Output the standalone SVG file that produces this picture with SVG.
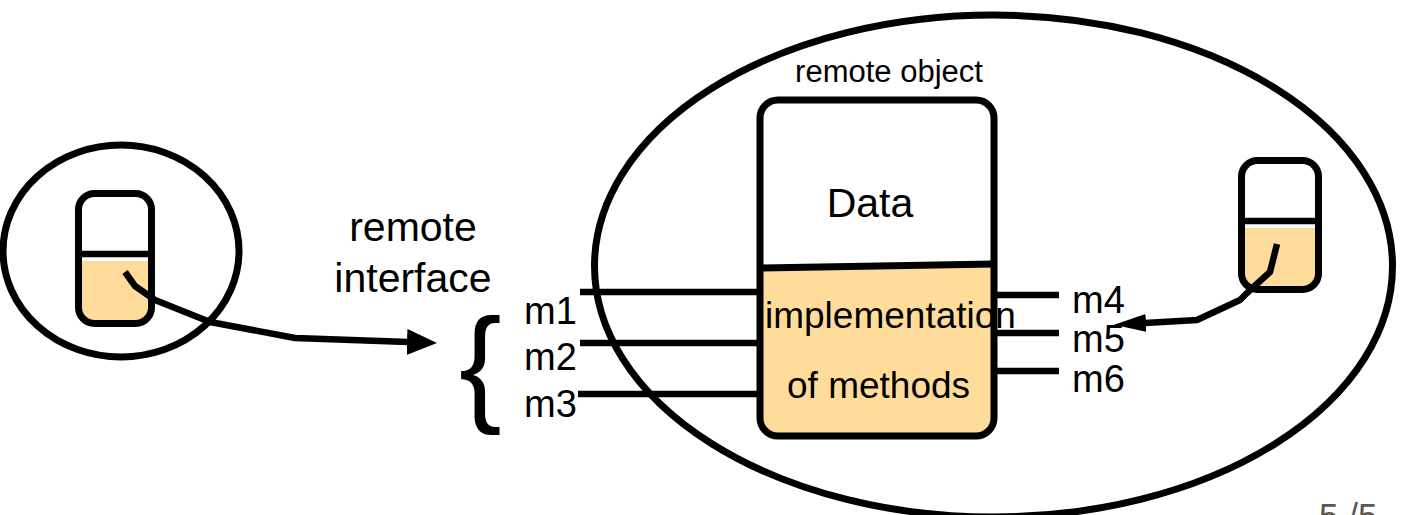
<svg xmlns="http://www.w3.org/2000/svg" width="1413" height="515" viewBox="0 0 1413 515">
<defs>
<style>
.t{font-family:"Liberation Sans",Arial,sans-serif;fill:#000}
.o{fill:none;stroke:#000;stroke-width:7}
.ln{fill:none;stroke:#000;stroke-width:6.5}
.fill{fill:#FFDC9A}
</style>
<clipPath id="cBig"><rect x="760" y="100" width="234" height="336" rx="18"/></clipPath>
<clipPath id="cL"><rect x="78.5" y="193.5" width="73" height="130" rx="16"/></clipPath>
<clipPath id="cR"><rect x="1241.5" y="160.5" width="77" height="129" rx="16"/></clipPath>
<marker id="ahL" markerUnits="userSpaceOnUse" markerWidth="32" markerHeight="28" refX="1" refY="13" orient="auto">
<path d="M0,0 L30,13 L0,26 z" fill="#000"/>
</marker>
<marker id="ahR" markerUnits="userSpaceOnUse" markerWidth="34" markerHeight="22" refX="1" refY="9" orient="auto">
<path d="M0,0 L32,9 L0,18 z" fill="#000"/>
</marker>
</defs>
<rect width="1413" height="515" fill="#fff"/>

<g id="client-process">
<ellipse cx="121" cy="251" rx="118" ry="106" class="o"/>
</g>

<g id="server-process">
<ellipse cx="993.5" cy="266" rx="399" ry="251" class="o"/>
</g>

<g id="client-object">
<rect x="78.5" y="193.5" width="73" height="130" rx="16" fill="#fff"/>
<rect x="70" y="261" width="90" height="70" class="fill" clip-path="url(#cL)"/>
<line x1="78" y1="254" x2="152" y2="254" class="ln"/>
<rect x="78.5" y="193.5" width="73" height="130" rx="16" class="o"/>
</g>

<g id="remote-object">
<rect x="760" y="100" width="234" height="336" rx="18" fill="#fff"/>
<polygon points="750,271 1000,267 1000,445 750,445" class="fill" clip-path="url(#cBig)"/>
<line x1="760" y1="268" x2="994" y2="264" stroke="#000" stroke-width="7"/>
<rect x="760" y="100" width="234" height="336" rx="18" class="o"/>
<text x="889" y="82" class="t" font-size="31" text-anchor="middle">remote object</text>
<text x="870" y="217" class="t" font-size="41" text-anchor="middle">Data</text>
</g>

<g id="server-object">
<rect x="1241.5" y="160.5" width="77" height="129" rx="16" fill="#fff"/>
<rect x="1235" y="228" width="90" height="70" class="fill" clip-path="url(#cR)"/>
<line x1="1241" y1="221" x2="1319" y2="221" class="ln"/>
<rect x="1241.5" y="160.5" width="77" height="129" rx="16" class="o"/>
</g>

<g id="connectors">
<line x1="580" y1="292" x2="760" y2="292" class="ln"/>
<line x1="580" y1="343" x2="760" y2="343" class="ln"/>
<line x1="578" y1="394" x2="760" y2="394" class="ln"/>
<line x1="994" y1="295" x2="1059" y2="295" class="ln"/>
<line x1="994" y1="333" x2="1059" y2="333" class="ln"/>
<line x1="994" y1="371" x2="1059" y2="371" class="ln"/>
<path d="M125,272 L135,286 L155,300 L210,322 L295,338 L408,342" class="ln" stroke-linejoin="round" marker-end="url(#ahL)"/>
<path d="M1277,244 L1270,272 L1247,293 L1240,300 L1197,320 L1145,323" class="ln" stroke-linejoin="round" marker-end="url(#ahR)"/>
</g>

<g id="labels">
<text x="765" y="328" class="t" font-size="37">implementation</text>
<text x="787" y="398" class="t" font-size="37">of methods</text>
<text x="413" y="241" class="t" font-size="41" text-anchor="middle">remote</text>
<text x="413" y="292" class="t" font-size="41" text-anchor="middle">interface</text>
<text x="459" y="408" class="t" font-size="128">{</text>
<text x="524" y="324" class="t" font-size="38">m1</text>
<text x="524" y="370" class="t" font-size="38">m2</text>
<text x="524" y="417" class="t" font-size="38">m3</text>
<text x="1072" y="313" class="t" font-size="38">m4</text>
<text x="1072" y="352" class="t" font-size="38">m5</text>
<text x="1072" y="392" class="t" font-size="38">m6</text>
<text x="1319" y="528" font-family="Liberation Sans, Arial, sans-serif" font-size="35" fill="#5c5650">5 /5</text>
</g>
</svg>
